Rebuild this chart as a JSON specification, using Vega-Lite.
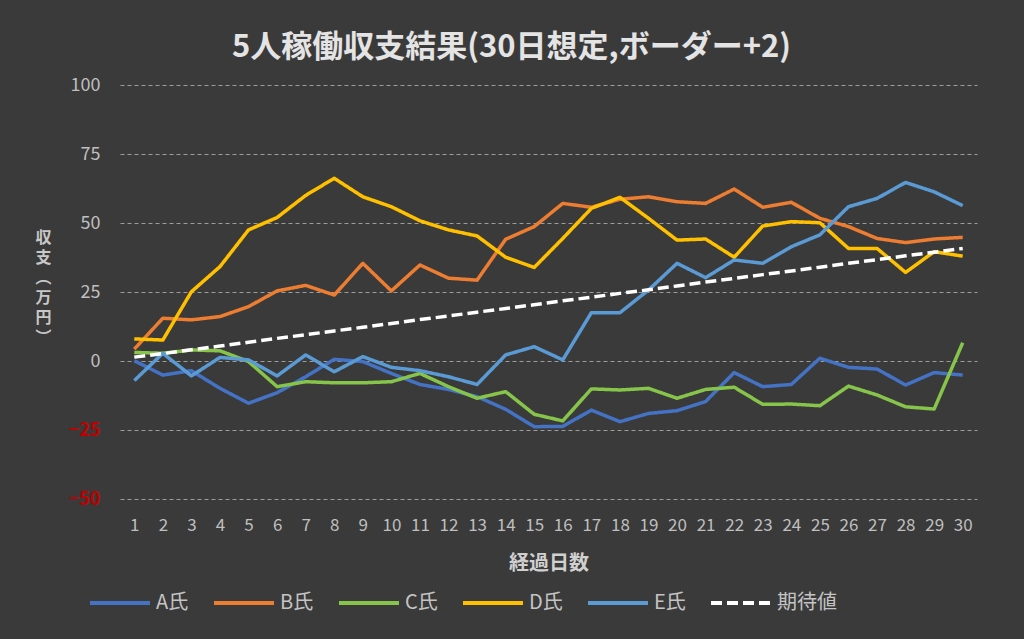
{
  "$schema": "https://vega.github.io/schema/vega-lite/v6.json",
  "width": 857,
  "height": 414,
  "autosize": {"type": "none"},
  "padding": {"left": 120, "top": 85, "right": 47, "bottom": 140},
  "background": "#3a3a3a",
  "title": {
    "text": "5人稼働収支結果(30日想定,ボーダー+2)",
    "font": "Noto Sans CJK JP",
    "fontSize": 31,
    "fontWeight": "bold",
    "color": "#e4e4e4",
    "anchor": "middle",
    "dx": -37,
    "offset": 12
  },
  "config": {
    "view": {"stroke": null},
    "font": "Noto Sans CJK JP"
  },
  "data": {
    "values": [
      {"day": 1, "series": "A氏", "value": 0.1}, {"day": 2, "series": "A氏", "value": -5.1}, {"day": 3, "series": "A氏", "value": -3.5},
      {"day": 4, "series": "A氏", "value": -9.9}, {"day": 5, "series": "A氏", "value": -15.3}, {"day": 6, "series": "A氏", "value": -11.5},
      {"day": 7, "series": "A氏", "value": -5.7}, {"day": 8, "series": "A氏", "value": 0.6}, {"day": 9, "series": "A氏", "value": -0.2},
      {"day": 10, "series": "A氏", "value": -4.5}, {"day": 11, "series": "A氏", "value": -8.5}, {"day": 12, "series": "A氏", "value": -10.3},
      {"day": 13, "series": "A氏", "value": -12.9}, {"day": 14, "series": "A氏", "value": -17.5}, {"day": 15, "series": "A氏", "value": -23.8},
      {"day": 16, "series": "A氏", "value": -23.7}, {"day": 17, "series": "A氏", "value": -17.8}, {"day": 18, "series": "A氏", "value": -22.0},
      {"day": 19, "series": "A氏", "value": -19.0}, {"day": 20, "series": "A氏", "value": -18.0}, {"day": 21, "series": "A氏", "value": -14.7},
      {"day": 22, "series": "A氏", "value": -4.2}, {"day": 23, "series": "A氏", "value": -9.3}, {"day": 24, "series": "A氏", "value": -8.5},
      {"day": 25, "series": "A氏", "value": 1.0}, {"day": 26, "series": "A氏", "value": -2.3}, {"day": 27, "series": "A氏", "value": -2.9},
      {"day": 28, "series": "A氏", "value": -8.7}, {"day": 29, "series": "A氏", "value": -4.2}, {"day": 30, "series": "A氏", "value": -5.1},

      {"day": 1, "series": "B氏", "value": 4.3}, {"day": 2, "series": "B氏", "value": 15.5}, {"day": 3, "series": "B氏", "value": 14.9},
      {"day": 4, "series": "B氏", "value": 16.1}, {"day": 5, "series": "B氏", "value": 19.7}, {"day": 6, "series": "B氏", "value": 25.4},
      {"day": 7, "series": "B氏", "value": 27.4}, {"day": 8, "series": "B氏", "value": 23.9}, {"day": 9, "series": "B氏", "value": 35.4},
      {"day": 10, "series": "B氏", "value": 25.4}, {"day": 11, "series": "B氏", "value": 34.8}, {"day": 12, "series": "B氏", "value": 30.0},
      {"day": 13, "series": "B氏", "value": 29.3}, {"day": 14, "series": "B氏", "value": 44.1}, {"day": 15, "series": "B氏", "value": 48.7},
      {"day": 16, "series": "B氏", "value": 57.1}, {"day": 17, "series": "B氏", "value": 55.7}, {"day": 18, "series": "B氏", "value": 58.6},
      {"day": 19, "series": "B氏", "value": 59.5}, {"day": 20, "series": "B氏", "value": 57.7}, {"day": 21, "series": "B氏", "value": 57.1},
      {"day": 22, "series": "B氏", "value": 62.3}, {"day": 23, "series": "B氏", "value": 55.7}, {"day": 24, "series": "B氏", "value": 57.5},
      {"day": 25, "series": "B氏", "value": 51.7}, {"day": 26, "series": "B氏", "value": 48.7}, {"day": 27, "series": "B氏", "value": 44.4},
      {"day": 28, "series": "B氏", "value": 42.9}, {"day": 29, "series": "B氏", "value": 44.2}, {"day": 30, "series": "B氏", "value": 44.8},

      {"day": 1, "series": "C氏", "value": 3.1}, {"day": 2, "series": "C氏", "value": 2.8}, {"day": 3, "series": "C氏", "value": 4.0},
      {"day": 4, "series": "C氏", "value": 3.7}, {"day": 5, "series": "C氏", "value": -0.2}, {"day": 6, "series": "C氏", "value": -9.3},
      {"day": 7, "series": "C氏", "value": -7.5}, {"day": 8, "series": "C氏", "value": -7.9}, {"day": 9, "series": "C氏", "value": -7.9},
      {"day": 10, "series": "C氏", "value": -7.5}, {"day": 11, "series": "C氏", "value": -4.5}, {"day": 12, "series": "C氏", "value": -9.3},
      {"day": 13, "series": "C氏", "value": -13.5}, {"day": 14, "series": "C氏", "value": -11.1}, {"day": 15, "series": "C氏", "value": -19.3},
      {"day": 16, "series": "C氏", "value": -21.7}, {"day": 17, "series": "C氏", "value": -10.1}, {"day": 18, "series": "C氏", "value": -10.5},
      {"day": 19, "series": "C氏", "value": -9.9}, {"day": 20, "series": "C氏", "value": -13.5}, {"day": 21, "series": "C氏", "value": -10.3},
      {"day": 22, "series": "C氏", "value": -9.5}, {"day": 23, "series": "C氏", "value": -15.7}, {"day": 24, "series": "C氏", "value": -15.6},
      {"day": 25, "series": "C氏", "value": -16.2}, {"day": 26, "series": "C氏", "value": -9.1}, {"day": 27, "series": "C氏", "value": -12.3},
      {"day": 28, "series": "C氏", "value": -16.6}, {"day": 29, "series": "C氏", "value": -17.4}, {"day": 30, "series": "C氏", "value": 6.6},

      {"day": 1, "series": "D氏", "value": 8.0}, {"day": 2, "series": "D氏", "value": 7.6}, {"day": 3, "series": "D氏", "value": 25.1},
      {"day": 4, "series": "D氏", "value": 34.2}, {"day": 5, "series": "D氏", "value": 47.5}, {"day": 6, "series": "D氏", "value": 52.0},
      {"day": 7, "series": "D氏", "value": 60.0}, {"day": 8, "series": "D氏", "value": 66.2}, {"day": 9, "series": "D氏", "value": 59.5},
      {"day": 10, "series": "D氏", "value": 55.9}, {"day": 11, "series": "D氏", "value": 50.8}, {"day": 12, "series": "D氏", "value": 47.5},
      {"day": 13, "series": "D氏", "value": 45.3}, {"day": 14, "series": "D氏", "value": 37.6}, {"day": 15, "series": "D氏", "value": 33.9},
      {"day": 16, "series": "D氏", "value": 44.4}, {"day": 17, "series": "D氏", "value": 55.3}, {"day": 18, "series": "D氏", "value": 59.3},
      {"day": 19, "series": "D氏", "value": 51.7}, {"day": 20, "series": "D氏", "value": 43.8}, {"day": 21, "series": "D氏", "value": 44.2},
      {"day": 22, "series": "D氏", "value": 37.6}, {"day": 23, "series": "D氏", "value": 48.9}, {"day": 24, "series": "D氏", "value": 50.5},
      {"day": 25, "series": "D氏", "value": 50.1}, {"day": 26, "series": "D氏", "value": 40.8}, {"day": 27, "series": "D氏", "value": 40.8},
      {"day": 28, "series": "D氏", "value": 32.1}, {"day": 29, "series": "D氏", "value": 39.6}, {"day": 30, "series": "D氏", "value": 38.0},

      {"day": 1, "series": "E氏", "value": -7.1}, {"day": 2, "series": "E氏", "value": 2.8}, {"day": 3, "series": "E氏", "value": -5.4},
      {"day": 4, "series": "E氏", "value": 1.3}, {"day": 5, "series": "E氏", "value": 0.4}, {"day": 6, "series": "E氏", "value": -5.4},
      {"day": 7, "series": "E氏", "value": 2.2}, {"day": 8, "series": "E氏", "value": -3.9}, {"day": 9, "series": "E氏", "value": 1.6},
      {"day": 10, "series": "E氏", "value": -2.3}, {"day": 11, "series": "E氏", "value": -3.5}, {"day": 12, "series": "E氏", "value": -5.7},
      {"day": 13, "series": "E氏", "value": -8.5}, {"day": 14, "series": "E氏", "value": 2.2}, {"day": 15, "series": "E氏", "value": 5.2},
      {"day": 16, "series": "E氏", "value": 0.4}, {"day": 17, "series": "E氏", "value": 17.5}, {"day": 18, "series": "E氏", "value": 17.5},
      {"day": 19, "series": "E氏", "value": 25.7}, {"day": 20, "series": "E氏", "value": 35.4}, {"day": 21, "series": "E氏", "value": 30.2},
      {"day": 22, "series": "E氏", "value": 36.6}, {"day": 23, "series": "E氏", "value": 35.4}, {"day": 24, "series": "E氏", "value": 41.4},
      {"day": 25, "series": "E氏", "value": 45.7}, {"day": 26, "series": "E氏", "value": 55.9}, {"day": 27, "series": "E氏", "value": 58.9},
      {"day": 28, "series": "E氏", "value": 64.7}, {"day": 29, "series": "E氏", "value": 61.3}, {"day": 30, "series": "E氏", "value": 56.3},

      {"day": 1, "series": "期待値", "value": 1.4}, {"day": 2, "series": "期待値", "value": 2.7}, {"day": 3, "series": "期待値", "value": 4.1},
      {"day": 4, "series": "期待値", "value": 5.4}, {"day": 5, "series": "期待値", "value": 6.8}, {"day": 6, "series": "期待値", "value": 8.2},
      {"day": 7, "series": "期待値", "value": 9.5}, {"day": 8, "series": "期待値", "value": 10.9}, {"day": 9, "series": "期待値", "value": 12.2},
      {"day": 10, "series": "期待値", "value": 13.6}, {"day": 11, "series": "期待値", "value": 15.0}, {"day": 12, "series": "期待値", "value": 16.3},
      {"day": 13, "series": "期待値", "value": 17.7}, {"day": 14, "series": "期待値", "value": 19.0}, {"day": 15, "series": "期待値", "value": 20.4},
      {"day": 16, "series": "期待値", "value": 21.8}, {"day": 17, "series": "期待値", "value": 23.1}, {"day": 18, "series": "期待値", "value": 24.5},
      {"day": 19, "series": "期待値", "value": 25.8}, {"day": 20, "series": "期待値", "value": 27.2}, {"day": 21, "series": "期待値", "value": 28.6},
      {"day": 22, "series": "期待値", "value": 29.9}, {"day": 23, "series": "期待値", "value": 31.3}, {"day": 24, "series": "期待値", "value": 32.6},
      {"day": 25, "series": "期待値", "value": 34.0}, {"day": 26, "series": "期待値", "value": 35.4}, {"day": 27, "series": "期待値", "value": 36.7},
      {"day": 28, "series": "期待値", "value": 38.1}, {"day": 29, "series": "期待値", "value": 39.4}, {"day": 30, "series": "期待値", "value": 40.8}
    ]
  },
  "mark": {"type": "line", "strokeWidth": 3.5, "strokeJoin": "round"},
  "encoding": {
    "x": {
      "field": "day",
      "type": "ordinal",
      "scale": {"type": "point", "padding": 0.5},
      "axis": {
        "labelAngle": 0,
        "grid": false,
        "domain": false,
        "ticks": false,
        "labelPadding": 18,
        "labelFontSize": 17,
        "labelColor": "#bfbfbf",
        "title": "経過日数",
        "titleFontSize": 20,
        "titleFontWeight": "bold",
        "titleColor": "#d0d0d0",
        "titleY": 64,
        "titleBaseline": "middle"
      }
    },
    "y": {
      "field": "value",
      "type": "quantitative",
      "scale": {"domain": [-50, 100], "nice": false, "zero": false},
      "axis": {
        "values": [-50, -25, 0, 25, 50, 75, 100],
        "grid": true,
        "gridDash": [4, 3],
        "gridColor": "#9c9c9c",
        "gridWidth": 1,
        "domain": false,
        "ticks": false,
        "labelPadding": 20,
        "labelFontSize": 18,
        "labelColor": {"condition": {"test": "datum.value < 0", "value": "#c00000"}, "value": "#bfbfbf"},
        "labelFontWeight": {"condition": {"test": "datum.value < 0", "value": "bold"}, "value": "normal"},
        "title": ["収", "支", "︵", "万", "円", "︶"],
        "titleAngle": 0,
        "titleAlign": "center",
        "titleBaseline": "top",
        "titleX": -77,
        "titleY": 144,
        "titleLineHeight": 20,
        "titleFontSize": 16,
        "titleFontWeight": "bold",
        "titleColor": "#c8c8c8"
      }
    },
    "color": {
      "field": "series",
      "type": "nominal",
      "scale": {
        "domain": ["A氏", "B氏", "C氏", "D氏", "E氏", "期待値"],
        "range": ["#4472C4", "#ED7D31", "#86C54A", "#FFC000", "#5B9BD5", "#FFFFFF"]
      },
      "legend": {
        "title": null,
        "orient": "none",
        "direction": "horizontal",
        "legendX": -32,
        "legendY": 486,
        "symbolType": "stroke",
        "symbolSize": 3600,
        "symbolStrokeWidth": 4,
        "labelFontSize": 20,
        "labelColor": "#c4c4c4",
        "labelOffset": 4,
        "columnPadding": 17,
        "padding": 0
      }
    },
    "strokeDash": {
      "field": "series",
      "type": "nominal",
      "scale": {
        "domain": ["A氏", "B氏", "C氏", "D氏", "E氏", "期待値"],
        "range": [[1, 0], [1, 0], [1, 0], [1, 0], [1, 0], [11, 5]]
      },
      "legend": {
        "title": null,
        "orient": "none",
        "direction": "horizontal",
        "legendX": -32,
        "legendY": 486,
        "symbolType": "stroke",
        "symbolSize": 3600,
        "symbolStrokeWidth": 4,
        "labelFontSize": 20,
        "labelColor": "#c4c4c4",
        "labelOffset": 4,
        "columnPadding": 17,
        "padding": 0
      }
    }
  }
}
